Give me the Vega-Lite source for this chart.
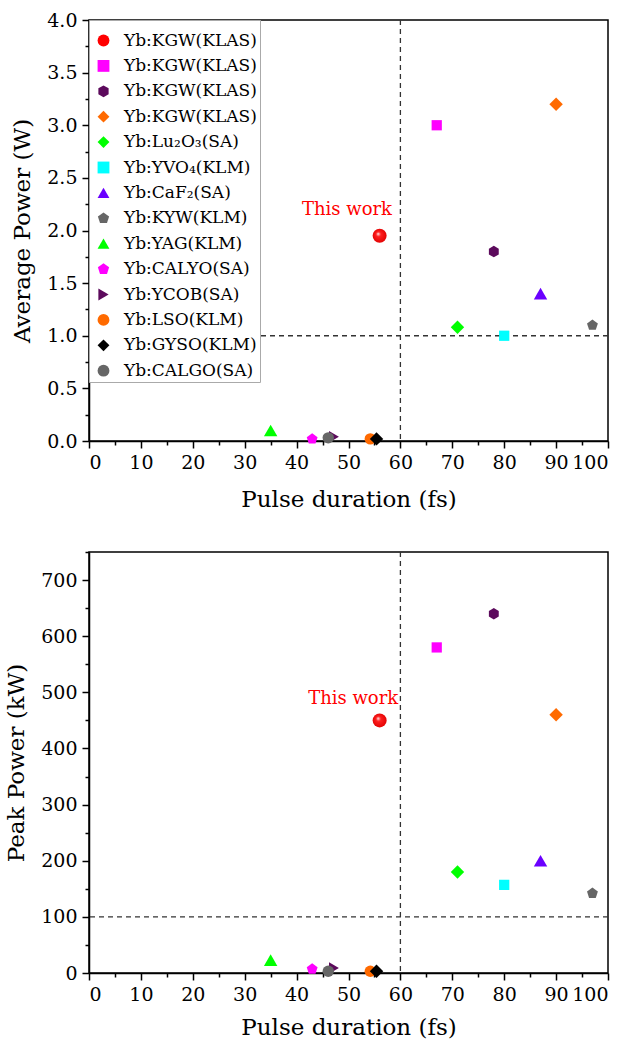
{
  "$schema": "https://vega.github.io/schema/vega-lite/v6.json",
  "background": "white",
  "padding": {"left": 4, "top": 10, "right": 20, "bottom": 0},
  "spacing": 38,
  "config": {
    "font": "DejaVu Serif",
    "view": {"stroke": "black", "strokeWidth": 1.5},
    "axis": {
      "grid": false,
      "domainColor": "black",
      "domainWidth": 1.5,
      "tickColor": "black",
      "tickWidth": 1.5,
      "labelColor": "black",
      "labelFont": "DejaVu Serif",
      "labelFontSize": 19,
      "titleFont": "DejaVu Serif",
      "titleFontSize": 23,
      "titleFontWeight": "normal",
      "titleColor": "black",
      "labelPadding": 5
    },
    "legend": {
      "orient": "top-left",
      "offset": 0,
      "titleFontSize": 9,
      "titlePadding": 0,
      "labelFont": "DejaVu Serif",
      "labelFontSize": 17,
      "labelColor": "black",
      "symbolSize": 140,
      "rowPadding": 7.4,
      "padding": 3,
      "symbolOffset": 3,
      "labelOffset": 12,
      "strokeColor": "#aaaaaa",
      "fillColor": "white",
      "symbolStrokeWidth": 0
    }
  },
  "datasets": {
    "pts": [
      {"id": "01 Yb:KGW(KLAS)", "grp": "m", "dur": 56.0, "avg": 1.95, "peak": 450},
      {"id": "02 Yb:KGW(KLAS)", "grp": "s", "dur": 67.0, "avg": 3.0, "peak": 580},
      {"id": "03 Yb:KGW(KLAS)", "grp": "m", "dur": 78.0, "avg": 1.8, "peak": 640},
      {"id": "04 Yb:KGW(KLAS)", "grp": "b", "dur": 90.0, "avg": 3.2, "peak": 460},
      {"id": "05 Yb:Lu₂O₃(SA)", "grp": "b", "dur": 71.0, "avg": 1.08, "peak": 180},
      {"id": "06 Yb:YVO₄(KLM)", "grp": "s", "dur": 80.0, "avg": 1.0, "peak": 157},
      {"id": "07 Yb:CaF₂(SA)", "grp": "b", "dur": 87.0, "avg": 1.4, "peak": 200},
      {"id": "08 Yb:KYW(KLM)", "grp": "m", "dur": 97.0, "avg": 1.1, "peak": 142},
      {"id": "09 Yb:YAG(KLM)", "grp": "b", "dur": 35.0, "avg": 0.1, "peak": 23},
      {"id": "10 Yb:CALYO(SA)", "grp": "m", "dur": 43.0, "avg": 0.02, "peak": 7},
      {"id": "11 Yb:YCOB(SA)", "grp": "m", "dur": 47.2, "avg": 0.04, "peak": 9},
      {"id": "12 Yb:LSO(KLM)", "grp": "m", "dur": 54.2, "avg": 0.02, "peak": 3},
      {"id": "13 Yb:GYSO(KLM)", "grp": "b", "dur": 55.4, "avg": 0.02, "peak": 3},
      {"id": "14 Yb:CALGO(SA)", "grp": "m", "dur": 46.1, "avg": 0.03, "peak": 3}
    ],
    "notes": [
      {"panel": "avg", "x": 49.7, "y": 2.195, "label": "This work"},
      {"panel": "peak", "x": 50.9, "y": 488, "label": "This work"}
    ],
    "vref": [{"v": 60}],
    "href_avg": [{"v": 1}],
    "href_peak": [{"v": 100}]
  },
  "resolve": {
    "scale": {"x": "independent", "y": "independent"},
    "legend": {"color": "independent", "shape": "independent"}
  },
  "vconcat": [
    {
      "width": 519,
      "height": 421,
      "encoding": {
        "x": {
          "field": "dur", "type": "quantitative",
          "scale": {"domain": [0, 100], "nice": false},
          "axis": {
            "title": "Pulse duration (fs)",
            "values": [0,5,10,15,20,25,30,35,40,45,50,55,60,65,70,75,80,85,90,95,100],
            "labelExpr": "datum.value % 10 === 0 ? datum.label : ''",
            "tickSize": {"condition": {"test": "datum.value % 10 === 0", "value": 7}, "value": 4},
            "titlePadding": 16
          }
        },
        "y": {
          "field": "avg", "type": "quantitative",
          "scale": {"domain": [0, 4], "nice": false, "zero": false},
          "axis": {
            "title": "Average Power (W)",
            "values": [0,0.25,0.5,0.75,1,1.25,1.5,1.75,2,2.25,2.5,2.75,3,3.25,3.5,3.75,4],
            "labelExpr": "round(datum.value*4) % 2 === 0 ? format(datum.value, '.1f') : ''",
            "tickSize": {"condition": {"test": "round(datum.value*4) % 2 === 0", "value": 7}, "value": 4},
            "titlePadding": 12
          }
        },
        "color": {
          "field": "id", "type": "nominal",
          "scale": {
            "domain": ["01 Yb:KGW(KLAS)","02 Yb:KGW(KLAS)","03 Yb:KGW(KLAS)","04 Yb:KGW(KLAS)","05 Yb:Lu₂O₃(SA)","06 Yb:YVO₄(KLM)","07 Yb:CaF₂(SA)","08 Yb:KYW(KLM)","09 Yb:YAG(KLM)","10 Yb:CALYO(SA)","11 Yb:YCOB(SA)","12 Yb:LSO(KLM)","13 Yb:GYSO(KLM)","14 Yb:CALGO(SA)"],
            "range": ["#ff0000","#ff00ff","#5c0a5c","#ff6a00","#00ff00","#00ffff","#6a00ff","#666666","#00ff00","#ff00ff","#5c0a5c","#ff6a00","#000000","#666666"]
          },
          "legend": {"title": " ", "labelExpr": "substring(datum.label, 3)"}
        },
        "shape": {
          "field": "id", "type": "nominal",
          "scale": {
            "domain": ["01 Yb:KGW(KLAS)","02 Yb:KGW(KLAS)","03 Yb:KGW(KLAS)","04 Yb:KGW(KLAS)","05 Yb:Lu₂O₃(SA)","06 Yb:YVO₄(KLM)","07 Yb:CaF₂(SA)","08 Yb:KYW(KLM)","09 Yb:YAG(KLM)","10 Yb:CALYO(SA)","11 Yb:YCOB(SA)","12 Yb:LSO(KLM)","13 Yb:GYSO(KLM)","14 Yb:CALGO(SA)"],
            "range": ["circle","square","M0,-1L0.866,-0.5L0.866,0.5L0,1L-0.866,0.5L-0.866,-0.5Z","diamond","diamond","square","triangle-up","M0,-1L0.951,-0.309L0.588,0.809L-0.588,0.809L-0.951,-0.309Z","triangle-up","M0,-1L0.951,-0.309L0.588,0.809L-0.588,0.809L-0.951,-0.309Z","triangle-right","circle","diamond","circle"]
          },
          "legend": {"title": " ", "labelExpr": "substring(datum.label, 3)"}
        }
      },
      "layer": [
        {
          "data": {"name": "vref"},
          "mark": {"type": "rule", "color": "#333333", "strokeDash": [5, 4], "strokeWidth": 1.3},
          "encoding": {"x": {"field": "v", "type": "quantitative"}, "y": null, "color": null, "shape": null}
        },
        {
          "data": {"name": "href_avg"},
          "mark": {"type": "rule", "color": "#333333", "strokeDash": [5, 4], "strokeWidth": 1.3},
          "encoding": {"y": {"field": "v", "type": "quantitative"}, "x": null, "color": null, "shape": null}
        },
        {
          "data": {"name": "pts"},
          "transform": [{"filter": "datum.grp === 'm'"}],
          "mark": {"type": "point", "filled": true, "opacity": 1, "size": 130}
        },
        {
          "data": {"name": "pts"},
          "transform": [{"filter": "datum.grp === 's'"}],
          "mark": {"type": "point", "filled": true, "opacity": 1, "size": 105}
        },
        {
          "data": {"name": "pts"},
          "transform": [{"filter": "datum.grp === 'b'"}],
          "mark": {"type": "point", "filled": true, "opacity": 1, "size": 180}
        },
        {
          "data": {"name": "pts"},
          "transform": [{"filter": "datum.id === '01 Yb:KGW(KLAS)'"}],
          "mark": {
            "type": "point", "filled": true, "size": 196, "shape": "circle", "opacity": 1,
            "fill": {"gradient": "radial", "x1": 0.38, "y1": 0.35, "r1": 0.0, "x2": 0.5, "y2": 0.5, "r2": 0.55,
              "stops": [{"offset": 0, "color": "#ffffff"}, {"offset": 0.3, "color": "#ff2020"}, {"offset": 1, "color": "#e00000"}]}
          },
          "encoding": {"color": null, "shape": null}
        },
        {
          "data": {"name": "notes"},
          "transform": [{"filter": "datum.panel === 'avg'"}],
          "mark": {"type": "text", "color": "#ff0000", "fontSize": 18, "font": "DejaVu Serif", "align": "center", "baseline": "middle"},
          "encoding": {
            "x": {"field": "x", "type": "quantitative"},
            "y": {"field": "y", "type": "quantitative"},
            "text": {"field": "label"},
            "color": null, "shape": null
          }
        }
      ]
    },
    {
      "width": 519,
      "height": 421,
      "encoding": {
        "x": {
          "field": "dur", "type": "quantitative",
          "scale": {"domain": [0, 100], "nice": false},
          "axis": {
            "title": "Pulse duration (fs)",
            "values": [0,5,10,15,20,25,30,35,40,45,50,55,60,65,70,75,80,85,90,95,100],
            "labelExpr": "datum.value % 10 === 0 ? datum.label : ''",
            "tickSize": {"condition": {"test": "datum.value % 10 === 0", "value": 7}, "value": 4},
            "titlePadding": 12
          }
        },
        "y": {
          "field": "peak", "type": "quantitative",
          "scale": {"domain": [0, 750], "nice": false},
          "axis": {
            "title": "Peak Power (kW)",
            "values": [0,50,100,150,200,250,300,350,400,450,500,550,600,650,700,750],
            "labelExpr": "datum.value % 100 === 0 ? datum.label : ''",
            "tickSize": {"condition": {"test": "datum.value % 100 === 0", "value": 7}, "value": 4},
            "titlePadding": 12
          }
        },
        "color": {
          "field": "id", "type": "nominal",
          "scale": {
            "domain": ["01 Yb:KGW(KLAS)","02 Yb:KGW(KLAS)","03 Yb:KGW(KLAS)","04 Yb:KGW(KLAS)","05 Yb:Lu₂O₃(SA)","06 Yb:YVO₄(KLM)","07 Yb:CaF₂(SA)","08 Yb:KYW(KLM)","09 Yb:YAG(KLM)","10 Yb:CALYO(SA)","11 Yb:YCOB(SA)","12 Yb:LSO(KLM)","13 Yb:GYSO(KLM)","14 Yb:CALGO(SA)"],
            "range": ["#ff0000","#ff00ff","#5c0a5c","#ff6a00","#00ff00","#00ffff","#6a00ff","#666666","#00ff00","#ff00ff","#5c0a5c","#ff6a00","#000000","#666666"]
          },
          "legend": null
        },
        "shape": {
          "field": "id", "type": "nominal",
          "scale": {
            "domain": ["01 Yb:KGW(KLAS)","02 Yb:KGW(KLAS)","03 Yb:KGW(KLAS)","04 Yb:KGW(KLAS)","05 Yb:Lu₂O₃(SA)","06 Yb:YVO₄(KLM)","07 Yb:CaF₂(SA)","08 Yb:KYW(KLM)","09 Yb:YAG(KLM)","10 Yb:CALYO(SA)","11 Yb:YCOB(SA)","12 Yb:LSO(KLM)","13 Yb:GYSO(KLM)","14 Yb:CALGO(SA)"],
            "range": ["circle","square","M0,-1L0.866,-0.5L0.866,0.5L0,1L-0.866,0.5L-0.866,-0.5Z","diamond","diamond","square","triangle-up","M0,-1L0.951,-0.309L0.588,0.809L-0.588,0.809L-0.951,-0.309Z","triangle-up","M0,-1L0.951,-0.309L0.588,0.809L-0.588,0.809L-0.951,-0.309Z","triangle-right","circle","diamond","circle"]
          },
          "legend": null
        }
      },
      "layer": [
        {
          "data": {"name": "vref"},
          "mark": {"type": "rule", "color": "#333333", "strokeDash": [5, 4], "strokeWidth": 1.3},
          "encoding": {"x": {"field": "v", "type": "quantitative"}, "y": null, "color": null, "shape": null}
        },
        {
          "data": {"name": "href_peak"},
          "mark": {"type": "rule", "color": "#333333", "strokeDash": [5, 4], "strokeWidth": 1.3},
          "encoding": {"y": {"field": "v", "type": "quantitative"}, "x": null, "color": null, "shape": null}
        },
        {
          "data": {"name": "pts"},
          "transform": [{"filter": "datum.grp === 'm'"}],
          "mark": {"type": "point", "filled": true, "opacity": 1, "size": 130}
        },
        {
          "data": {"name": "pts"},
          "transform": [{"filter": "datum.grp === 's'"}],
          "mark": {"type": "point", "filled": true, "opacity": 1, "size": 105}
        },
        {
          "data": {"name": "pts"},
          "transform": [{"filter": "datum.grp === 'b'"}],
          "mark": {"type": "point", "filled": true, "opacity": 1, "size": 180}
        },
        {
          "data": {"name": "pts"},
          "transform": [{"filter": "datum.id === '01 Yb:KGW(KLAS)'"}],
          "mark": {
            "type": "point", "filled": true, "size": 196, "shape": "circle", "opacity": 1,
            "fill": {"gradient": "radial", "x1": 0.38, "y1": 0.35, "r1": 0.0, "x2": 0.5, "y2": 0.5, "r2": 0.55,
              "stops": [{"offset": 0, "color": "#ffffff"}, {"offset": 0.3, "color": "#ff2020"}, {"offset": 1, "color": "#e00000"}]}
          },
          "encoding": {"color": null, "shape": null}
        },
        {
          "data": {"name": "notes"},
          "transform": [{"filter": "datum.panel === 'peak'"}],
          "mark": {"type": "text", "color": "#ff0000", "fontSize": 18, "font": "DejaVu Serif", "align": "center", "baseline": "middle"},
          "encoding": {
            "x": {"field": "x", "type": "quantitative"},
            "y": {"field": "y", "type": "quantitative"},
            "text": {"field": "label"},
            "color": null, "shape": null
          }
        }
      ]
    }
  ]
}
